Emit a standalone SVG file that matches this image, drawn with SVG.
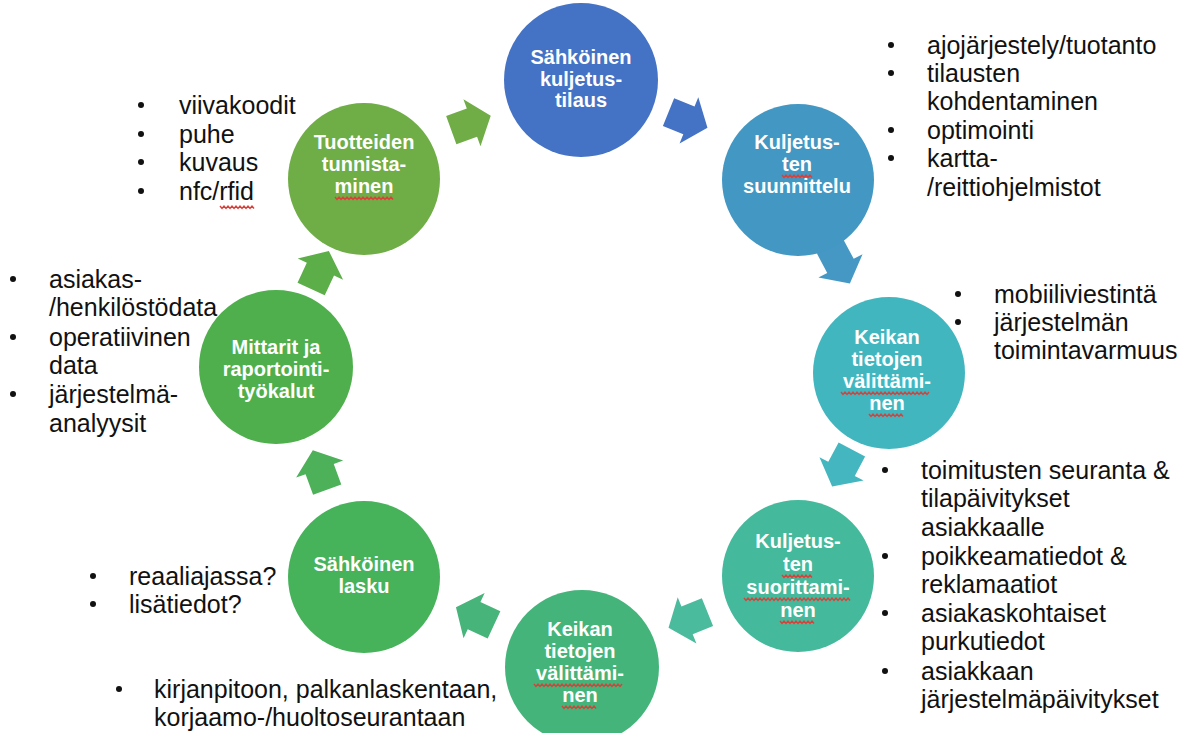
<svg xmlns="http://www.w3.org/2000/svg" width="1195" height="733" viewBox="0 0 1195 733">
<style>
.ct{font-family:"Liberation Sans",Arial,sans-serif;font-weight:bold;font-size:20px;fill:#fff;text-anchor:middle}
.bt{font-family:"Liberation Sans",Arial,sans-serif;font-size:25px;fill:#111}
.sq{fill:none;stroke:#d9413b;stroke-width:1.4}
</style>
<defs>
<path id="arr" d="M-21,-15 L1,-15 L1,-25 L21,0 L1,25 L1,15 L-21,15 Z"/>
<circle id="dot" r="3" fill="#111"/>
</defs>
<rect width="1195" height="733" fill="#fff"/>
<g id="connectors">
<use href="#arr" fill="#70ad47" transform="translate(471,123) rotate(-20)"/>
<use href="#arr" fill="#4472c4" transform="translate(688,120) rotate(22)"/>
<use href="#arr" fill="#4698c4" transform="translate(840,265) rotate(62)"/>
<use href="#arr" fill="#44b6bf" transform="translate(842,468) rotate(118)"/>
<use href="#arr" fill="#4bbb9e" transform="translate(688,620) rotate(158)"/>
<use href="#arr" fill="#47b47a" transform="translate(475,616) rotate(205)"/>
<use href="#arr" fill="#4cb159" transform="translate(320,470) rotate(250)"/>
<use href="#arr" fill="#5cae48" transform="translate(320,270) rotate(-65)"/>
</g>
<g id="n1">
<circle cx="581" cy="80" r="77" fill="#4472c4"/>
<text class="ct" x="581" y="64">Sähköinen</text>
<text class="ct" x="581" y="86">kuljetus-</text>
<text class="ct" x="581" y="107">tilaus</text>
</g>
<g id="n2">
<circle cx="798" cy="180" r="76" fill="#4297c3"/>
<text class="ct" x="797" y="149">Kuljetus-</text>
<text class="ct" x="797" y="171">ten</text>
<text class="ct" x="797" y="193">suunnittelu</text>
<path class="sq" d="M782,175 l2,2.5 l2,-2.5 l2,2.5 l2,-2.5 l2,2.5 l2,-2.5 l2,2.5 l2,-2.5 l2,2.5 l2,-2.5 l2,2.5 l2,-2.5 l2,2.5 l2,-2.5 l2,2.5"/>
</g>
<g id="n3">
<circle cx="889" cy="373" r="76" fill="#42b6bf"/>
<text class="ct" x="887" y="344">Keikan</text>
<text class="ct" x="887" y="366">tietojen</text>
<text class="ct" x="887" y="388">välittämi-</text>
<text class="ct" x="887" y="410">nen</text>
<path class="sq" d="M841,392 l2,2.5 l2,-2.5 l2,2.5 l2,-2.5 l2,2.5 l2,-2.5 l2,2.5 l2,-2.5 l2,2.5 l2,-2.5 l2,2.5 l2,-2.5 l2,2.5 l2,-2.5 l2,2.5 l2,-2.5 l2,2.5 l2,-2.5 l2,2.5 l2,-2.5 l2,2.5 l2,-2.5 l2,2.5 l2,-2.5 l2,2.5 l2,-2.5 l2,2.5 l2,-2.5 l2,2.5 l2,-2.5 l2,2.5 l2,-2.5 l2,2.5 l2,-2.5 l2,2.5 l2,-2.5 l2,2.5 l2,-2.5 l2,2.5 l2,-2.5 l2,2.5 l2,-2.5 l2,2.5 l2,-2.5"/>
<path class="sq" d="M869,414 l2,2.5 l2,-2.5 l2,2.5 l2,-2.5 l2,2.5 l2,-2.5 l2,2.5 l2,-2.5 l2,2.5 l2,-2.5 l2,2.5 l2,-2.5 l2,2.5 l2,-2.5 l2,2.5 l2,-2.5 l2,2.5"/>
</g>
<g id="n4">
<circle cx="798" cy="576" r="76" fill="#45b99b"/>
<text class="ct" x="798" y="548">Kuljetus-</text>
<text class="ct" x="798" y="571">ten</text>
<text class="ct" x="798" y="594">suorittami-</text>
<text class="ct" x="798" y="617">nen</text>
<path class="sq" d="M782,575 l2,2.5 l2,-2.5 l2,2.5 l2,-2.5 l2,2.5 l2,-2.5 l2,2.5 l2,-2.5 l2,2.5 l2,-2.5 l2,2.5 l2,-2.5 l2,2.5 l2,-2.5 l2,2.5"/>
<path class="sq" d="M744,598 l2,2.5 l2,-2.5 l2,2.5 l2,-2.5 l2,2.5 l2,-2.5 l2,2.5 l2,-2.5 l2,2.5 l2,-2.5 l2,2.5 l2,-2.5 l2,2.5 l2,-2.5 l2,2.5 l2,-2.5 l2,2.5 l2,-2.5 l2,2.5 l2,-2.5 l2,2.5 l2,-2.5 l2,2.5 l2,-2.5 l2,2.5 l2,-2.5 l2,2.5 l2,-2.5 l2,2.5 l2,-2.5 l2,2.5 l2,-2.5 l2,2.5 l2,-2.5 l2,2.5 l2,-2.5 l2,2.5 l2,-2.5 l2,2.5 l2,-2.5 l2,2.5 l2,-2.5 l2,2.5 l2,-2.5 l2,2.5 l2,-2.5 l2,2.5 l2,-2.5 l2,2.5 l2,-2.5 l2,2.5 l2,-2.5 l2,2.5"/>
<path class="sq" d="M780,621 l2,2.5 l2,-2.5 l2,2.5 l2,-2.5 l2,2.5 l2,-2.5 l2,2.5 l2,-2.5 l2,2.5 l2,-2.5 l2,2.5 l2,-2.5 l2,2.5 l2,-2.5 l2,2.5 l2,-2.5 l2,2.5"/>
</g>
<g id="n5">
<circle cx="582" cy="667" r="77" fill="#44b47a"/>
<text class="ct" x="580" y="636">Keikan</text>
<text class="ct" x="580" y="658">tietojen</text>
<text class="ct" x="580" y="680">välittämi-</text>
<text class="ct" x="580" y="702">nen</text>
<path class="sq" d="M534,684 l2,2.5 l2,-2.5 l2,2.5 l2,-2.5 l2,2.5 l2,-2.5 l2,2.5 l2,-2.5 l2,2.5 l2,-2.5 l2,2.5 l2,-2.5 l2,2.5 l2,-2.5 l2,2.5 l2,-2.5 l2,2.5 l2,-2.5 l2,2.5 l2,-2.5 l2,2.5 l2,-2.5 l2,2.5 l2,-2.5 l2,2.5 l2,-2.5 l2,2.5 l2,-2.5 l2,2.5 l2,-2.5 l2,2.5 l2,-2.5 l2,2.5 l2,-2.5 l2,2.5 l2,-2.5 l2,2.5 l2,-2.5 l2,2.5 l2,-2.5 l2,2.5 l2,-2.5 l2,2.5 l2,-2.5"/>
<path class="sq" d="M562,706 l2,2.5 l2,-2.5 l2,2.5 l2,-2.5 l2,2.5 l2,-2.5 l2,2.5 l2,-2.5 l2,2.5 l2,-2.5 l2,2.5 l2,-2.5 l2,2.5 l2,-2.5 l2,2.5 l2,-2.5 l2,2.5"/>
</g>
<g id="n6">
<circle cx="364" cy="577" r="76" fill="#46b25a"/>
<text class="ct" x="364" y="571">Sähköinen</text>
<text class="ct" x="364" y="593">lasku</text>
</g>
<g id="n7">
<circle cx="276" cy="367" r="77" fill="#4eaf4c"/>
<text class="ct" x="276" y="354">Mittarit ja</text>
<text class="ct" x="276" y="376">raportointi-</text>
<text class="ct" x="276" y="398">työkalut</text>
</g>
<g id="n8">
<circle cx="364" cy="179" r="76" fill="#6fad46"/>
<text class="ct" x="364" y="149">Tuotteiden</text>
<text class="ct" x="364" y="171">tunnista-</text>
<text class="ct" x="364" y="193">minen</text>
<path class="sq" d="M335,197 l2,2.5 l2,-2.5 l2,2.5 l2,-2.5 l2,2.5 l2,-2.5 l2,2.5 l2,-2.5 l2,2.5 l2,-2.5 l2,2.5 l2,-2.5 l2,2.5 l2,-2.5 l2,2.5 l2,-2.5 l2,2.5 l2,-2.5 l2,2.5 l2,-2.5 l2,2.5 l2,-2.5 l2,2.5 l2,-2.5 l2,2.5 l2,-2.5 l2,2.5 l2,-2.5 l2,2.5"/>
</g>
<g id="list-top-right">
<use href="#dot" x="891" y="45"/>
<use href="#dot" x="891" y="73"/>
<use href="#dot" x="891" y="130"/>
<use href="#dot" x="891" y="158"/>
<text class="bt" x="927" y="54">ajojärjestely/tuotanto</text>
<text class="bt" x="927" y="82">tilausten</text>
<text class="bt" x="927" y="110">kohdentaminen</text>
<text class="bt" x="927" y="139">optimointi</text>
<text class="bt" x="927" y="167">kartta-</text>
<text class="bt" x="927" y="196">/reittiohjelmistot</text>
</g>
<g id="list-top-left">
<use href="#dot" x="141" y="105"/>
<use href="#dot" x="141" y="134"/>
<use href="#dot" x="141" y="162"/>
<use href="#dot" x="141" y="191"/>
<text class="bt" x="179" y="114">viivakoodit</text>
<text class="bt" x="179" y="143">puhe</text>
<text class="bt" x="179" y="171">kuvaus</text>
<text class="bt" x="179" y="200">nfc/rfid</text>
<path class="sq" d="M220,206 l2,2.5 l2,-2.5 l2,2.5 l2,-2.5 l2,2.5 l2,-2.5 l2,2.5 l2,-2.5 l2,2.5 l2,-2.5 l2,2.5 l2,-2.5 l2,2.5 l2,-2.5 l2,2.5 l2,-2.5 l2,2.5"/>
</g>
<g id="list-left">
<use href="#dot" x="13" y="279"/>
<use href="#dot" x="13" y="337"/>
<use href="#dot" x="13" y="394"/>
<text class="bt" x="49" y="288">asiakas-</text>
<text class="bt" x="49" y="316">/henkilöstödata</text>
<text class="bt" x="49" y="346">operatiivinen</text>
<text class="bt" x="49" y="374">data</text>
<text class="bt" x="49" y="403">järjestelmä-</text>
<text class="bt" x="49" y="432">analyysit</text>
</g>
<g id="list-right-mid">
<use href="#dot" x="958" y="294"/>
<use href="#dot" x="958" y="322"/>
<text class="bt" x="994" y="303">mobiiliviestintä</text>
<text class="bt" x="994" y="331">järjestelmän</text>
<text class="bt" x="994" y="359">toimintavarmuus</text>
</g>
<g id="list-right-low">
<use href="#dot" x="885" y="470"/>
<use href="#dot" x="885" y="556"/>
<use href="#dot" x="885" y="613"/>
<use href="#dot" x="885" y="671"/>
<text class="bt" x="921" y="479">toimitusten seuranta &amp;</text>
<text class="bt" x="921" y="507">tilapäivitykset</text>
<text class="bt" x="921" y="536">asiakkaalle</text>
<text class="bt" x="921" y="565">poikkeamatiedot &amp;</text>
<text class="bt" x="921" y="593">reklamaatiot</text>
<text class="bt" x="921" y="622">asiakaskohtaiset</text>
<text class="bt" x="921" y="650">purkutiedot</text>
<text class="bt" x="921" y="680">asiakkaan</text>
<text class="bt" x="921" y="708">järjestelmäpäivitykset</text>
</g>
<g id="list-bottom-left">
<use href="#dot" x="93" y="576"/>
<use href="#dot" x="93" y="604"/>
<text class="bt" x="129" y="585">reaaliajassa?</text>
<text class="bt" x="129" y="613">lisätiedot?</text>
</g>
<g id="list-bottom">
<use href="#dot" x="119" y="689"/>
<text class="bt" x="154" y="698">kirjanpitoon, palkanlaskentaan,</text>
<text class="bt" x="154" y="726">korjaamo-/huoltoseurantaan</text>
</g>
</svg>
